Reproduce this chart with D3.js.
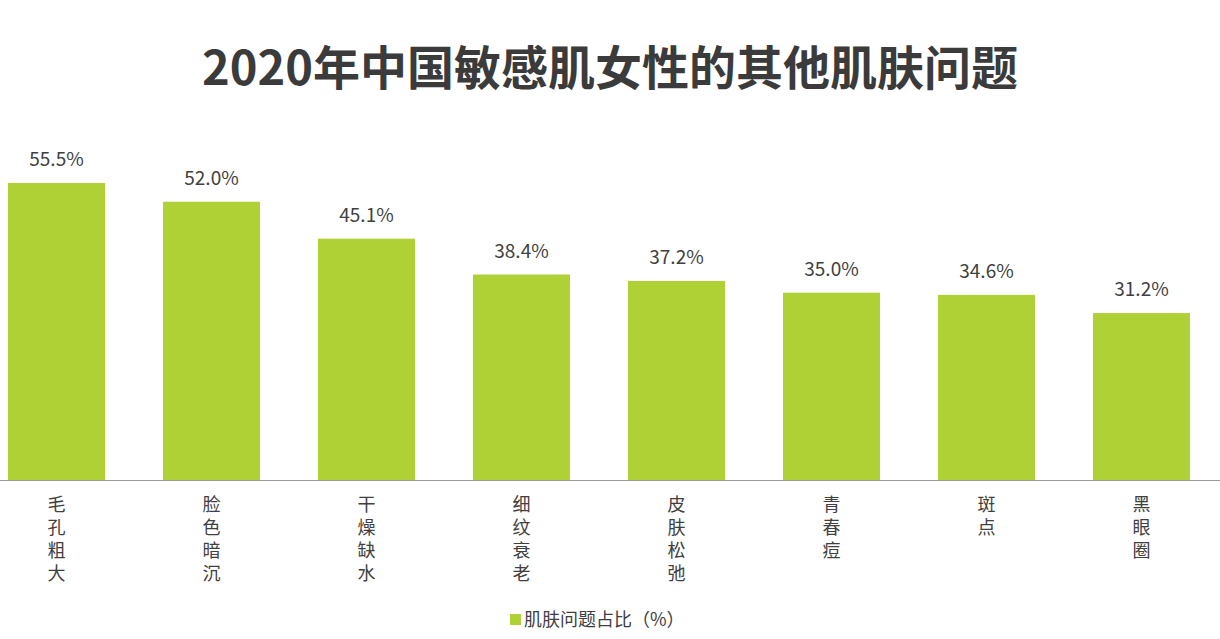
<!DOCTYPE html>
<html><head><meta charset="utf-8">
<script src="https://cdn.jsdelivr.net/npm/d3@7"></script>
<style>body{margin:0;background:#fff}svg{display:block}</style>
</head><body>
<script>
const categories = ['毛孔粗大','脸色暗沉','干燥缺水','细纹衰老','皮肤松弛','青春痘','斑点','黑眼圈'];
const values = [55.5, 52.0, 45.1, 38.4, 37.2, 35.0, 34.6, 31.2];
const seriesName = '肌肤问题占比（%）';

const width = 1220, height = 639, base = 480;
const font = '"Microsoft YaHei","Noto Sans CJK SC",sans-serif';
const color = '#afd136';

const svg = d3.select('body').append('svg').attr('width', width).attr('height', height);

svg.append('text').attr('x', 610).attr('y', 85).attr('text-anchor', 'middle')
  .style('font-family', font).style('font-size', '47px').style('font-weight', 'bold')
  .attr('fill', '#3b3b3b').text('2020年中国敏感肌女性的其他肌肤问题');

const x = d3.scaleBand().domain(categories).range([-21, 1219]).paddingInner(0.374).paddingOuter(0.187);
const y = d3.scaleLinear().domain([0, 55.5]).range([base, 183]);

svg.selectAll('rect.bar').data(values).join('rect').attr('class', 'bar')
  .attr('x', (d, i) => x(categories[i])).attr('width', x.bandwidth())
  .attr('y', d => y(d)).attr('height', d => base - y(d)).attr('fill', color);

svg.selectAll('text.val').data(values).join('text').attr('class', 'val')
  .attr('x', (d, i) => x(categories[i]) + x.bandwidth() / 2).attr('y', d => y(d) - 17)
  .attr('text-anchor', 'middle').style('font-family', font).style('font-size', '19px')
  .attr('fill', '#404040').text(d => d.toFixed(1) + '%');

svg.append('line').attr('x1', 0).attr('x2', width).attr('y1', base + 0.5).attr('y2', base + 0.5)
  .attr('stroke', '#999').attr('stroke-width', 1);

const lab = svg.selectAll('g.lab').data(categories).join('g').attr('class', 'lab')
  .attr('transform', d => `translate(${x(d) + x.bandwidth() / 2},0)`);
lab.selectAll('text').data(d => Array.from(d)).join('text')
  .attr('x', 0).attr('y', (c, i) => 511 + i * 23).attr('text-anchor', 'middle')
  .style('font-family', font).style('font-size', '18px').attr('fill', '#404040').text(c => c);

svg.append('rect').attr('x', 510).attr('y', 614).attr('width', 11).attr('height', 11).attr('fill', color);
svg.append('text').attr('x', 524).attr('y', 626).style('font-family', font).style('font-size', '18px')
  .attr('fill', '#404040').text(seriesName);
</script>
</body></html>
